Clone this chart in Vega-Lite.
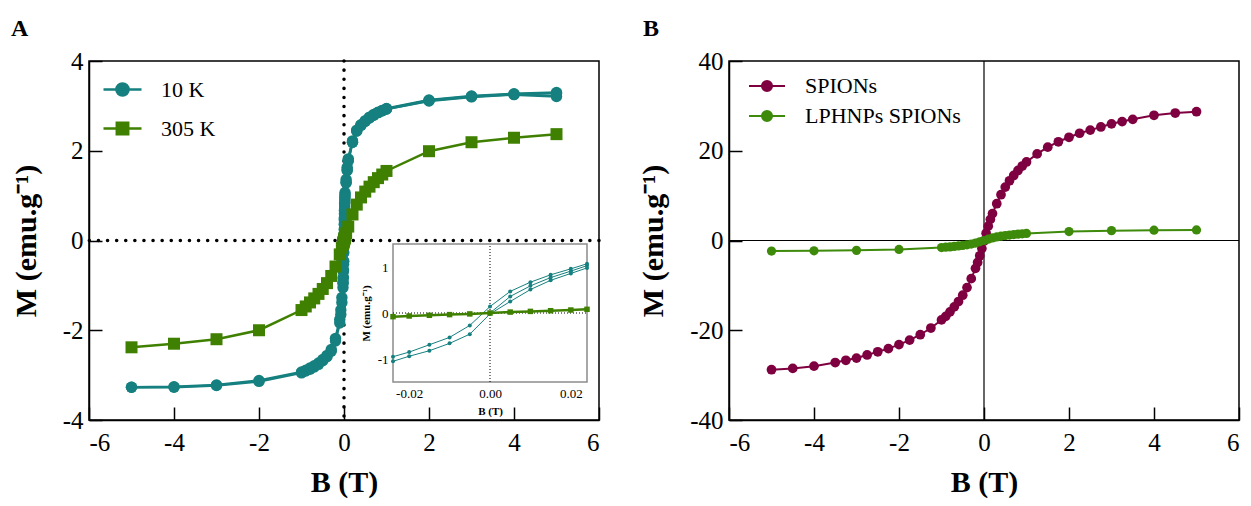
{
  "$schema": "https://vega.github.io/schema/vega-lite/v6.json",
  "background": "white",
  "padding": {"left": 10, "top": 16, "right": 5, "bottom": 0},
  "bounds": "flush",
  "spacing": 130,
  "resolve": {"scale": {"color": "independent"}, "legend": {"color": "independent"}},
  "config": {
    "font": "Liberation Serif",
    "view": {"stroke": "black", "strokeWidth": 1.5},
    "axis": {
      "grid": false,
      "domainColor": "black",
      "domainWidth": 1.5,
      "tickColor": "black",
      "tickWidth": 1.5,
      "tickSize": 13,
      "labelFont": "Liberation Serif",
      "labelFontSize": 25,
      "labelColor": "black",
      "titleFont": "Liberation Serif",
      "titleFontSize": 30,
      "titleFontWeight": "bold",
      "titleColor": "black"
    },
    "axisX": {"labelPadding": 10, "titlePadding": 12},
    "axisY": {"labelPadding": 6, "titlePadding": 21},
    "title": {"font": "Liberation Serif", "fontSize": 24, "fontWeight": "bold", "color": "black", "anchor": "start", "frame": "group", "baseline": "alphabetic", "offset": 8},
    "legend": {"labelFont": "Liberation Serif", "labelFontSize": 22, "labelColor": "black"}
  },
  "datasets": {
    "hysteresis": [
      {"T": "10 K", "branch": "initial", "B": 0, "M": 0.0},
      {"T": "10 K", "branch": "initial", "B": 0.005, "M": 0.36},
      {"T": "10 K", "branch": "initial", "B": 0.01, "M": 0.59},
      {"T": "10 K", "branch": "initial", "B": 0.015, "M": 0.77},
      {"T": "10 K", "branch": "initial", "B": 0.02, "M": 0.91},
      {"T": "10 K", "branch": "initial", "B": 0.024, "M": 1.03},
      {"T": "10 K", "branch": "initial", "B": 0.05, "M": 1.30},
      {"T": "10 K", "branch": "initial", "B": 0.075, "M": 1.58},
      {"T": "10 K", "branch": "initial", "B": 0.1, "M": 1.79},
      {"T": "10 K", "branch": "initial", "B": 0.2, "M": 2.19},
      {"T": "10 K", "branch": "initial", "B": 0.3, "M": 2.44},
      {"T": "10 K", "branch": "initial", "B": 0.4, "M": 2.57},
      {"T": "10 K", "branch": "initial", "B": 0.5, "M": 2.66},
      {"T": "10 K", "branch": "initial", "B": 0.6, "M": 2.74},
      {"T": "10 K", "branch": "initial", "B": 0.7, "M": 2.80},
      {"T": "10 K", "branch": "initial", "B": 0.8, "M": 2.85},
      {"T": "10 K", "branch": "initial", "B": 0.9, "M": 2.89},
      {"T": "10 K", "branch": "initial", "B": 1, "M": 2.93},
      {"T": "10 K", "branch": "initial", "B": 2, "M": 3.11},
      {"T": "10 K", "branch": "initial", "B": 3, "M": 3.20},
      {"T": "10 K", "branch": "initial", "B": 4, "M": 3.25},
      {"T": "10 K", "branch": "initial", "B": 5, "M": 3.21},
      {"T": "10 K", "branch": "down", "B": 5, "M": 3.30},
      {"T": "10 K", "branch": "down", "B": 4, "M": 3.27},
      {"T": "10 K", "branch": "down", "B": 3, "M": 3.22},
      {"T": "10 K", "branch": "down", "B": 2, "M": 3.13},
      {"T": "10 K", "branch": "down", "B": 1, "M": 2.94},
      {"T": "10 K", "branch": "down", "B": 0.9, "M": 2.90},
      {"T": "10 K", "branch": "down", "B": 0.8, "M": 2.86},
      {"T": "10 K", "branch": "down", "B": 0.7, "M": 2.81},
      {"T": "10 K", "branch": "down", "B": 0.6, "M": 2.75},
      {"T": "10 K", "branch": "down", "B": 0.5, "M": 2.67},
      {"T": "10 K", "branch": "down", "B": 0.4, "M": 2.58},
      {"T": "10 K", "branch": "down", "B": 0.3, "M": 2.46},
      {"T": "10 K", "branch": "down", "B": 0.2, "M": 2.22},
      {"T": "10 K", "branch": "down", "B": 0.1, "M": 1.82},
      {"T": "10 K", "branch": "down", "B": 0.075, "M": 1.63},
      {"T": "10 K", "branch": "down", "B": 0.05, "M": 1.36},
      {"T": "10 K", "branch": "down", "B": 0.024, "M": 1.07},
      {"T": "10 K", "branch": "down", "B": 0.02, "M": 0.96},
      {"T": "10 K", "branch": "down", "B": 0.015, "M": 0.83},
      {"T": "10 K", "branch": "down", "B": 0.01, "M": 0.67},
      {"T": "10 K", "branch": "down", "B": 0.005, "M": 0.47},
      {"T": "10 K", "branch": "down", "B": 0, "M": 0.14},
      {"T": "10 K", "branch": "down", "B": -0.005, "M": -0.27},
      {"T": "10 K", "branch": "down", "B": -0.01, "M": -0.53},
      {"T": "10 K", "branch": "down", "B": -0.015, "M": -0.69},
      {"T": "10 K", "branch": "down", "B": -0.02, "M": -0.85},
      {"T": "10 K", "branch": "down", "B": -0.024, "M": -0.95},
      {"T": "10 K", "branch": "down", "B": -0.05, "M": -1.27},
      {"T": "10 K", "branch": "down", "B": -0.075, "M": -1.55},
      {"T": "10 K", "branch": "down", "B": -0.1, "M": -1.76},
      {"T": "10 K", "branch": "down", "B": -0.2, "M": -2.18},
      {"T": "10 K", "branch": "down", "B": -0.3, "M": -2.43},
      {"T": "10 K", "branch": "down", "B": -0.4, "M": -2.56},
      {"T": "10 K", "branch": "down", "B": -0.5, "M": -2.65},
      {"T": "10 K", "branch": "down", "B": -0.6, "M": -2.73},
      {"T": "10 K", "branch": "down", "B": -0.7, "M": -2.79},
      {"T": "10 K", "branch": "down", "B": -0.8, "M": -2.84},
      {"T": "10 K", "branch": "down", "B": -0.9, "M": -2.89},
      {"T": "10 K", "branch": "down", "B": -1, "M": -2.93},
      {"T": "10 K", "branch": "down", "B": -2, "M": -3.12},
      {"T": "10 K", "branch": "down", "B": -3, "M": -3.22},
      {"T": "10 K", "branch": "down", "B": -4, "M": -3.26},
      {"T": "10 K", "branch": "down", "B": -5, "M": -3.27},
      {"T": "10 K", "branch": "up", "B": -5, "M": -3.27},
      {"T": "10 K", "branch": "up", "B": -4, "M": -3.27},
      {"T": "10 K", "branch": "up", "B": -3, "M": -3.23},
      {"T": "10 K", "branch": "up", "B": -2, "M": -3.14},
      {"T": "10 K", "branch": "up", "B": -1, "M": -2.95},
      {"T": "10 K", "branch": "up", "B": -0.9, "M": -2.91},
      {"T": "10 K", "branch": "up", "B": -0.8, "M": -2.87},
      {"T": "10 K", "branch": "up", "B": -0.7, "M": -2.82},
      {"T": "10 K", "branch": "up", "B": -0.6, "M": -2.76},
      {"T": "10 K", "branch": "up", "B": -0.5, "M": -2.68},
      {"T": "10 K", "branch": "up", "B": -0.4, "M": -2.59},
      {"T": "10 K", "branch": "up", "B": -0.3, "M": -2.47},
      {"T": "10 K", "branch": "up", "B": -0.2, "M": -2.24},
      {"T": "10 K", "branch": "up", "B": -0.1, "M": -1.84},
      {"T": "10 K", "branch": "up", "B": -0.075, "M": -1.65},
      {"T": "10 K", "branch": "up", "B": -0.05, "M": -1.38},
      {"T": "10 K", "branch": "up", "B": -0.024, "M": -1.05},
      {"T": "10 K", "branch": "up", "B": -0.02, "M": -0.94},
      {"T": "10 K", "branch": "up", "B": -0.015, "M": -0.82},
      {"T": "10 K", "branch": "up", "B": -0.01, "M": -0.66},
      {"T": "10 K", "branch": "up", "B": -0.005, "M": -0.46},
      {"T": "10 K", "branch": "up", "B": 0, "M": -0.02},
      {"T": "10 K", "branch": "up", "B": 0.005, "M": 0.25},
      {"T": "10 K", "branch": "up", "B": 0.01, "M": 0.51},
      {"T": "10 K", "branch": "up", "B": 0.015, "M": 0.71},
      {"T": "10 K", "branch": "up", "B": 0.02, "M": 0.86},
      {"T": "10 K", "branch": "up", "B": 0.024, "M": 0.98},
      {"T": "10 K", "branch": "up", "B": 0.05, "M": 1.28},
      {"T": "10 K", "branch": "up", "B": 0.075, "M": 1.56},
      {"T": "10 K", "branch": "up", "B": 0.1, "M": 1.77},
      {"T": "10 K", "branch": "up", "B": 0.2, "M": 2.19},
      {"T": "10 K", "branch": "up", "B": 0.3, "M": 2.44},
      {"T": "10 K", "branch": "up", "B": 0.4, "M": 2.57},
      {"T": "10 K", "branch": "up", "B": 0.5, "M": 2.66},
      {"T": "10 K", "branch": "up", "B": 0.6, "M": 2.73},
      {"T": "10 K", "branch": "up", "B": 0.7, "M": 2.79},
      {"T": "10 K", "branch": "up", "B": 0.8, "M": 2.85},
      {"T": "10 K", "branch": "up", "B": 0.9, "M": 2.89},
      {"T": "10 K", "branch": "up", "B": 1, "M": 2.93},
      {"T": "10 K", "branch": "up", "B": 2, "M": 3.12},
      {"T": "10 K", "branch": "up", "B": 3, "M": 3.21},
      {"T": "10 K", "branch": "up", "B": 4, "M": 3.26},
      {"T": "10 K", "branch": "up", "B": 5, "M": 3.28},
      {"T": "305 K", "branch": "loop", "B": -5, "M": -2.38},
      {"T": "305 K", "branch": "loop", "B": -4, "M": -2.30},
      {"T": "305 K", "branch": "loop", "B": -3, "M": -2.20},
      {"T": "305 K", "branch": "loop", "B": -2, "M": -2.00},
      {"T": "305 K", "branch": "loop", "B": -1, "M": -1.55},
      {"T": "305 K", "branch": "loop", "B": -0.9, "M": -1.47},
      {"T": "305 K", "branch": "loop", "B": -0.8, "M": -1.38},
      {"T": "305 K", "branch": "loop", "B": -0.7, "M": -1.29},
      {"T": "305 K", "branch": "loop", "B": -0.6, "M": -1.19},
      {"T": "305 K", "branch": "loop", "B": -0.5, "M": -1.08},
      {"T": "305 K", "branch": "loop", "B": -0.4, "M": -0.95},
      {"T": "305 K", "branch": "loop", "B": -0.3, "M": -0.79},
      {"T": "305 K", "branch": "loop", "B": -0.2, "M": -0.58},
      {"T": "305 K", "branch": "loop", "B": -0.1, "M": -0.31},
      {"T": "305 K", "branch": "loop", "B": -0.05, "M": -0.16},
      {"T": "305 K", "branch": "loop", "B": -0.024, "M": -0.08},
      {"T": "305 K", "branch": "loop", "B": -0.02, "M": -0.065},
      {"T": "305 K", "branch": "loop", "B": -0.015, "M": -0.05},
      {"T": "305 K", "branch": "loop", "B": -0.01, "M": -0.035},
      {"T": "305 K", "branch": "loop", "B": -0.005, "M": -0.02},
      {"T": "305 K", "branch": "loop", "B": 0, "M": 0.0},
      {"T": "305 K", "branch": "loop", "B": 0.005, "M": 0.02},
      {"T": "305 K", "branch": "loop", "B": 0.01, "M": 0.035},
      {"T": "305 K", "branch": "loop", "B": 0.015, "M": 0.05},
      {"T": "305 K", "branch": "loop", "B": 0.02, "M": 0.065},
      {"T": "305 K", "branch": "loop", "B": 0.024, "M": 0.08},
      {"T": "305 K", "branch": "loop", "B": 0.05, "M": 0.16},
      {"T": "305 K", "branch": "loop", "B": 0.1, "M": 0.31},
      {"T": "305 K", "branch": "loop", "B": 0.2, "M": 0.58},
      {"T": "305 K", "branch": "loop", "B": 0.3, "M": 0.80},
      {"T": "305 K", "branch": "loop", "B": 0.4, "M": 0.96},
      {"T": "305 K", "branch": "loop", "B": 0.5, "M": 1.09},
      {"T": "305 K", "branch": "loop", "B": 0.6, "M": 1.20},
      {"T": "305 K", "branch": "loop", "B": 0.7, "M": 1.30},
      {"T": "305 K", "branch": "loop", "B": 0.8, "M": 1.39},
      {"T": "305 K", "branch": "loop", "B": 0.9, "M": 1.47},
      {"T": "305 K", "branch": "loop", "B": 1, "M": 1.55},
      {"T": "305 K", "branch": "loop", "B": 2, "M": 1.99},
      {"T": "305 K", "branch": "loop", "B": 3, "M": 2.19},
      {"T": "305 K", "branch": "loop", "B": 4, "M": 2.29},
      {"T": "305 K", "branch": "loop", "B": 5, "M": 2.37}
    ],
    "particles": [
      {"S": "SPIONs", "B": -5, "M": -28.8},
      {"S": "SPIONs", "B": -4.5, "M": -28.5},
      {"S": "SPIONs", "B": -4, "M": -28.0},
      {"S": "SPIONs", "B": -3.5, "M": -27.2},
      {"S": "SPIONs", "B": -3.25, "M": -26.7},
      {"S": "SPIONs", "B": -3, "M": -26.2},
      {"S": "SPIONs", "B": -2.75, "M": -25.5},
      {"S": "SPIONs", "B": -2.5, "M": -24.8},
      {"S": "SPIONs", "B": -2.25, "M": -24.1},
      {"S": "SPIONs", "B": -2, "M": -23.2},
      {"S": "SPIONs", "B": -1.75, "M": -22.2},
      {"S": "SPIONs", "B": -1.5, "M": -21.0},
      {"S": "SPIONs", "B": -1.25, "M": -19.5},
      {"S": "SPIONs", "B": -1, "M": -17.7},
      {"S": "SPIONs", "B": -0.9, "M": -16.9},
      {"S": "SPIONs", "B": -0.8, "M": -15.9},
      {"S": "SPIONs", "B": -0.7, "M": -14.8},
      {"S": "SPIONs", "B": -0.6, "M": -13.6},
      {"S": "SPIONs", "B": -0.5, "M": -12.2},
      {"S": "SPIONs", "B": -0.4, "M": -10.5},
      {"S": "SPIONs", "B": -0.3, "M": -8.5},
      {"S": "SPIONs", "B": -0.2, "M": -6.2},
      {"S": "SPIONs", "B": -0.15, "M": -4.9},
      {"S": "SPIONs", "B": -0.1, "M": -3.4},
      {"S": "SPIONs", "B": -0.05, "M": -1.8},
      {"S": "SPIONs", "B": 0, "M": -0.1},
      {"S": "SPIONs", "B": 0.05, "M": 1.6},
      {"S": "SPIONs", "B": 0.1, "M": 3.2},
      {"S": "SPIONs", "B": 0.15, "M": 4.7},
      {"S": "SPIONs", "B": 0.2, "M": 6.0},
      {"S": "SPIONs", "B": 0.3, "M": 8.2},
      {"S": "SPIONs", "B": 0.4, "M": 10.2},
      {"S": "SPIONs", "B": 0.5, "M": 11.9},
      {"S": "SPIONs", "B": 0.6, "M": 13.3},
      {"S": "SPIONs", "B": 0.7, "M": 14.5},
      {"S": "SPIONs", "B": 0.8, "M": 15.6},
      {"S": "SPIONs", "B": 0.9, "M": 16.6},
      {"S": "SPIONs", "B": 1, "M": 17.5},
      {"S": "SPIONs", "B": 1.25, "M": 19.3},
      {"S": "SPIONs", "B": 1.5, "M": 20.8},
      {"S": "SPIONs", "B": 1.75, "M": 22.0},
      {"S": "SPIONs", "B": 2, "M": 23.0},
      {"S": "SPIONs", "B": 2.25, "M": 23.9},
      {"S": "SPIONs", "B": 2.5, "M": 24.6},
      {"S": "SPIONs", "B": 2.75, "M": 25.3},
      {"S": "SPIONs", "B": 3, "M": 26.0},
      {"S": "SPIONs", "B": 3.25, "M": 26.5},
      {"S": "SPIONs", "B": 3.5, "M": 27.0},
      {"S": "SPIONs", "B": 4, "M": 27.9},
      {"S": "SPIONs", "B": 4.5, "M": 28.4},
      {"S": "SPIONs", "B": 5, "M": 28.7},
      {"S": "LPHNPs SPIONs", "B": -5, "M": -2.35},
      {"S": "LPHNPs SPIONs", "B": -4, "M": -2.3},
      {"S": "LPHNPs SPIONs", "B": -3, "M": -2.2},
      {"S": "LPHNPs SPIONs", "B": -2, "M": -2.0},
      {"S": "LPHNPs SPIONs", "B": -1, "M": -1.57},
      {"S": "LPHNPs SPIONs", "B": -0.9, "M": -1.5},
      {"S": "LPHNPs SPIONs", "B": -0.8, "M": -1.42},
      {"S": "LPHNPs SPIONs", "B": -0.7, "M": -1.32},
      {"S": "LPHNPs SPIONs", "B": -0.6, "M": -1.22},
      {"S": "LPHNPs SPIONs", "B": -0.5, "M": -1.1},
      {"S": "LPHNPs SPIONs", "B": -0.4, "M": -0.96},
      {"S": "LPHNPs SPIONs", "B": -0.3, "M": -0.79},
      {"S": "LPHNPs SPIONs", "B": -0.2, "M": -0.57},
      {"S": "LPHNPs SPIONs", "B": -0.1, "M": -0.3},
      {"S": "LPHNPs SPIONs", "B": 0, "M": 0.0},
      {"S": "LPHNPs SPIONs", "B": 0.1, "M": 0.3},
      {"S": "LPHNPs SPIONs", "B": 0.2, "M": 0.57},
      {"S": "LPHNPs SPIONs", "B": 0.3, "M": 0.79},
      {"S": "LPHNPs SPIONs", "B": 0.4, "M": 0.96},
      {"S": "LPHNPs SPIONs", "B": 0.5, "M": 1.1},
      {"S": "LPHNPs SPIONs", "B": 0.6, "M": 1.22},
      {"S": "LPHNPs SPIONs", "B": 0.7, "M": 1.32},
      {"S": "LPHNPs SPIONs", "B": 0.8, "M": 1.42},
      {"S": "LPHNPs SPIONs", "B": 0.9, "M": 1.5},
      {"S": "LPHNPs SPIONs", "B": 1, "M": 1.57},
      {"S": "LPHNPs SPIONs", "B": 2, "M": 2.0},
      {"S": "LPHNPs SPIONs", "B": 3, "M": 2.2},
      {"S": "LPHNPs SPIONs", "B": 4, "M": 2.3},
      {"S": "LPHNPs SPIONs", "B": 5, "M": 2.35}
    ]
  },
  "hconcat": [
    {
      "title": {"text": "A", "dx": -78},
      "width": 510,
      "height": 359,
      "resolve": {"scale": {"x": "independent", "y": "independent"}},
      "layer": [
        {
          "resolve": {"axis": {"x": "independent", "y": "independent"}},
          "layer": [
            {
              "data": {"values": [{}]},
              "mark": {"type": "rule", "color": "black", "strokeWidth": 3.5, "strokeDash": [0.1, 9], "strokeCap": "round"},
              "encoding": {
                "x": {"datum": 0, "type": "quantitative",
                      "axis": {"orient": "top", "offset": -359, "values": [-6, -4, -2, 0, 2, 4, 6], "labels": false, "domain": false, "ticks": true, "title": null}}
              }
            },
            {
              "data": {"values": [{}]},
              "mark": {"type": "rule", "color": "black", "strokeWidth": 3.5, "strokeDash": [0.1, 9], "strokeCap": "round"},
              "encoding": {
                "y": {"datum": 0, "type": "quantitative",
                      "axis": {"orient": "right", "offset": -510, "values": [-4, -2, 0, 2, 4], "labels": false, "domain": false, "ticks": true, "title": null}}
              }
            },
            {
              "data": {"name": "hysteresis"},
              "mark": {"type": "line", "strokeWidth": 2.5},
              "encoding": {
                "x": {"field": "B", "type": "quantitative", "scale": {"domain": [-6, 6], "nice": false, "zero": false},
                      "axis": {"orient": "bottom", "values": [-6, -4, -2, 0, 2, 4, 6], "ticks": false, "title": "B (T)", "labelExpr": "replace(datum.label, '−', '-')"}},
                "y": {"field": "M", "type": "quantitative", "scale": {"domain": [-4, 4], "nice": false, "zero": false},
                      "axis": {"orient": "left", "values": [-4, -2, 0, 2, 4], "ticks": false, "title": "M (emu.g⁻¹)", "labelExpr": "replace(datum.label, '−', '-')"}},
                "color": {
                  "field": "T", "type": "nominal",
                  "scale": {"domain": ["10 K", "305 K"], "range": ["#15807f", "#3f8000"]},
                  "legend": {
                    "title": null,
                    "orient": "none",
                    "legendX": 13,
                    "legendY": 8,
                    "symbolSize": 1444,
                    "symbolStrokeWidth": 2.5,
                    "labelOffset": 18,
                    "rowPadding": 7,
                    "labelFontSize": 22,
                    "encode": {
                      "symbols": {
                        "update": {
                          "shape": {"signal": "datum.value === '10 K' ? 'M-1,0H1M-0.32,0A0.32,0.32 0 1,0 0.32,0A0.32,0.32 0 1,0 -0.32,0Z' : 'M-1,0H1M-0.3,-0.3H0.3V0.3H-0.3Z'"},
                          "fill": {"signal": "datum.value === '10 K' ? '#15807f' : '#3f8000'"},
                          "stroke": {"signal": "datum.value === '10 K' ? '#15807f' : '#3f8000'"},
                          "strokeWidth": {"value": 2.5},
                          "opacity": {"value": 1}
                        }
                      }
                    }
                  }
                },
                "detail": {"field": "branch", "type": "nominal"}
              }
            },
            {
              "data": {"name": "hysteresis"},
              "transform": [{"filter": "datum.T === '10 K'"}],
              "mark": {"type": "point", "shape": "circle", "filled": true, "size": 130, "opacity": 1, "color": "#15807f"},
              "encoding": {
                "x": {"field": "B", "type": "quantitative", "axis": null},
                "y": {"field": "M", "type": "quantitative", "axis": null}
              }
            },
            {
              "data": {"name": "hysteresis"},
              "transform": [{"filter": "datum.T === '305 K'"}],
              "mark": {"type": "point", "shape": "square", "filled": true, "size": 144, "opacity": 1, "color": "#3f8000"},
              "encoding": {
                "x": {"field": "B", "type": "quantitative", "axis": null},
                "y": {"field": "M", "type": "quantitative", "axis": null}
              }
            }
          ]
        },
        {
          "layer": [
            {
              "data": {"values": [{}]},
              "mark": {"type": "rect", "fill": "white", "stroke": "#8c8c8c", "strokeWidth": 1.5},
              "encoding": {
                "x": {"datum": -0.024, "type": "quantitative",
                      "scale": {"domain": [-0.024, 0.024], "range": [304, 498], "nice": false, "zero": false},
                      "axis": {"orient": "bottom", "offset": -38, "values": [-0.02, 0, 0.02], "format": ".2f",
                               "labelExpr": "replace(datum.label, '−', '-')", "domain": false, "ticks": false,
                               "labelFontSize": 13, "labelPadding": 5, "title": "B (T)", "titleFontSize": 11, "titlePadding": 5}},
                "x2": {"datum": 0.024},
                "y": {"datum": -1.5, "type": "quantitative",
                      "scale": {"domain": [-1.5, 1.5], "range": [321, 183], "nice": false, "zero": false},
                      "axis": {"orient": "left", "offset": -304, "values": [-1, 0, 1], "format": "d",
                               "labelExpr": "replace(datum.label, '−', '-')", "domain": false, "ticks": false,
                               "labelFontSize": 13, "labelPadding": 5, "title": "M (emu.g⁻¹)", "titleFontSize": 11, "titlePadding": 6}},
                "y2": {"datum": 1.5}
              }
            },
            {
              "data": {"values": [{}]},
              "mark": {"type": "rule", "color": "black", "strokeWidth": 1, "strokeDash": [1, 2]},
              "encoding": {"x": {"datum": 0, "type": "quantitative"}, "y": {"datum": -1.5, "type": "quantitative"}, "y2": {"datum": 1.5}}
            },
            {
              "data": {"values": [{}]},
              "mark": {"type": "rule", "color": "black", "strokeWidth": 1, "strokeDash": [1, 2]},
              "encoding": {"y": {"datum": 0, "type": "quantitative"}, "x": {"datum": -0.024, "type": "quantitative"}, "x2": {"datum": 0.024}}
            },
            {
              "data": {"name": "hysteresis"},
              "transform": [{"filter": "datum.T === '10 K' && abs(datum.B) <= 0.0245"}],
              "mark": {"type": "line", "strokeWidth": 1, "color": "#15807f"},
              "encoding": {
                "x": {"field": "B", "type": "quantitative"},
                "y": {"field": "M", "type": "quantitative"},
                "detail": {"field": "branch", "type": "nominal"}
              }
            },
            {
              "data": {"name": "hysteresis"},
              "transform": [{"filter": "datum.T === '10 K' && abs(datum.B) <= 0.0245"}],
              "mark": {"type": "point", "shape": "circle", "filled": true, "size": 16, "opacity": 1, "color": "#15807f"},
              "encoding": {
                "x": {"field": "B", "type": "quantitative"},
                "y": {"field": "M", "type": "quantitative"}
              }
            },
            {
              "data": {"name": "hysteresis"},
              "transform": [{"filter": "datum.T === '305 K' && abs(datum.B) <= 0.0245"}],
              "mark": {"type": "line", "strokeWidth": 2.5, "color": "#3f8000"},
              "encoding": {
                "x": {"field": "B", "type": "quantitative"},
                "y": {"field": "M", "type": "quantitative"}
              }
            },
            {
              "data": {"name": "hysteresis"},
              "transform": [{"filter": "datum.T === '305 K' && abs(datum.B) <= 0.0245"}],
              "mark": {"type": "point", "shape": "square", "filled": true, "size": 30, "opacity": 1, "color": "#3f8000"},
              "encoding": {
                "x": {"field": "B", "type": "quantitative"},
                "y": {"field": "M", "type": "quantitative"}
              }
            }
          ]
        }
      ]
    },
    {
      "title": {"text": "B", "dx": -86},
      "width": 510,
      "height": 359,
      "resolve": {"axis": {"x": "independent", "y": "independent"}},
      "layer": [
        {
          "data": {"values": [{}]},
          "mark": {"type": "rule", "color": "black", "strokeWidth": 1.2},
          "encoding": {
            "x": {"datum": 0, "type": "quantitative",
                  "axis": {"orient": "top", "offset": -359, "values": [-6, -4, -2, 0, 2, 4, 6], "labels": false, "domain": false, "ticks": true, "title": null}}
          }
        },
        {
          "data": {"values": [{}]},
          "mark": {"type": "rule", "color": "black", "strokeWidth": 1.2},
          "encoding": {
            "y": {"datum": 0, "type": "quantitative",
                  "axis": {"orient": "right", "offset": -510, "values": [-40, -20, 0, 20, 40], "labels": false, "domain": false, "ticks": true, "title": null}}
          }
        },
        {
          "data": {"name": "particles"},
          "mark": {"type": "line", "strokeWidth": 2},
          "encoding": {
            "x": {"field": "B", "type": "quantitative", "scale": {"domain": [-6, 6], "nice": false, "zero": false},
                  "axis": {"orient": "bottom", "values": [-6, -4, -2, 0, 2, 4, 6], "ticks": false, "title": "B (T)", "labelExpr": "replace(datum.label, '−', '-')"}},
            "y": {"field": "M", "type": "quantitative", "scale": {"domain": [-40, 40], "nice": false, "zero": false},
                  "axis": {"orient": "left", "values": [-40, -20, 0, 20, 40], "ticks": false, "title": "M (emu.g⁻¹)", "labelExpr": "replace(datum.label, '−', '-')"}},
            "color": {
              "field": "S", "type": "nominal",
              "sort": ["SPIONs", "LPHNPs SPIONs"],
              "scale": {"domain": ["SPIONs", "LPHNPs SPIONs"], "range": ["#7f0040", "#3e8a0a"]},
              "legend": {
                "title": null,
                "orient": "none",
                "legendX": 19,
                "legendY": 6,
                "symbolSize": 1296,
                "symbolStrokeWidth": 2,
                "labelOffset": 19,
                "rowPadding": -5,
                "labelFontSize": 22,
                "encode": {
                  "symbols": {
                    "update": {
                      "shape": {"value": "M-1,0H1M-0.28,0A0.28,0.28 0 1,0 0.28,0A0.28,0.28 0 1,0 -0.28,0Z"},
                      "fill": {"signal": "datum.value === 'SPIONs' ? '#7f0040' : '#3e8a0a'"},
                      "stroke": {"signal": "datum.value === 'SPIONs' ? '#7f0040' : '#3e8a0a'"},
                      "strokeWidth": {"value": 2},
                      "opacity": {"value": 1}
                    }
                  }
                }
              }
            }
          }
        },
        {
          "data": {"name": "particles"},
          "transform": [{"filter": "datum.S === 'SPIONs'"}],
          "mark": {"type": "point", "shape": "circle", "filled": true, "size": 95, "opacity": 1, "color": "#7f0040"},
          "encoding": {
            "x": {"field": "B", "type": "quantitative", "axis": null},
            "y": {"field": "M", "type": "quantitative", "axis": null}
          }
        },
        {
          "data": {"name": "particles"},
          "transform": [{"filter": "datum.S === 'LPHNPs SPIONs'"}],
          "mark": {"type": "point", "shape": "circle", "filled": true, "size": 85, "opacity": 1, "color": "#3e8a0a"},
          "encoding": {
            "x": {"field": "B", "type": "quantitative", "axis": null},
            "y": {"field": "M", "type": "quantitative", "axis": null}
          }
        }
      ]
    }
  ]
}
